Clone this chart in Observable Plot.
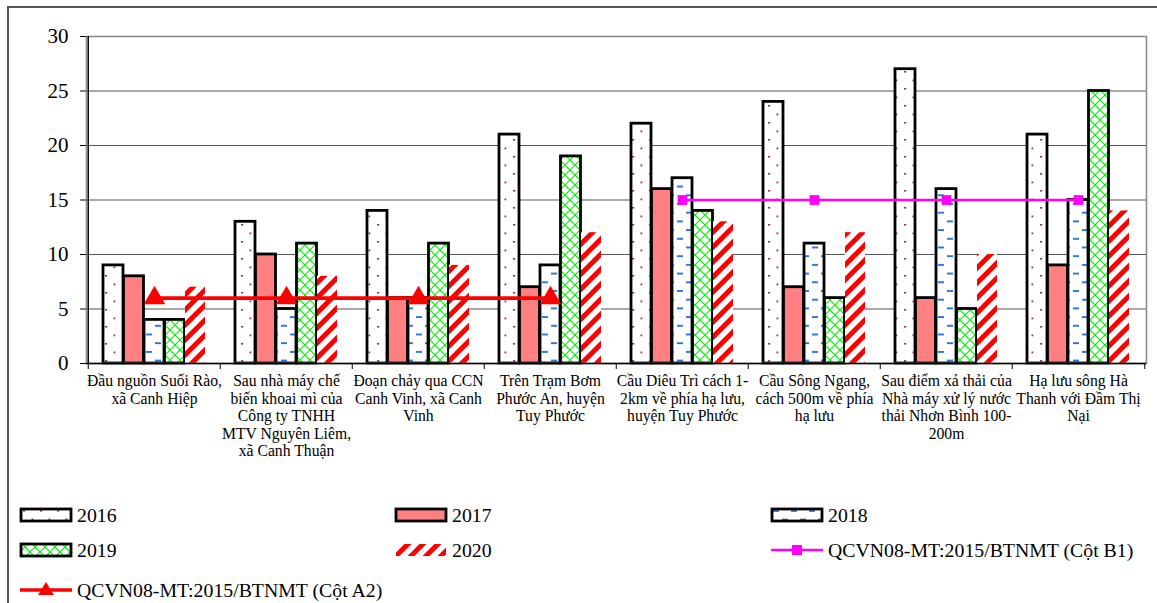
<!DOCTYPE html>
<html>
<head>
<meta charset="utf-8">
<script src="https://cdn.jsdelivr.net/npm/d3@7"></script>
<script src="https://cdn.jsdelivr.net/npm/@observablehq/plot@0.6"></script>
<style>
  html, body { margin: 0; padding: 0; background: #fff; overflow: hidden; }
  body { width: 1157px; height: 603px; position: relative; font-family: "Liberation Serif", "Times New Roman", serif; }
  #border { position: absolute; left: 7px; top: 6px; width: 1200px; height: 700px;
            border-top: 2px solid #555; border-left: 2px solid #555; box-sizing: border-box; }
  #chart { position: absolute; left: 0; top: 0; }
  #defs { position: absolute; width: 0; height: 0; }
  .item { position: absolute; display: flex; align-items: center; font-size: 19.8px; color: #000; white-space: nowrap; }
  .item svg { margin-right: 5px; overflow: visible; }
</style>
</head>
<body>
<div id="border"></div>
<svg id="defs" width="0" height="0"></svg>
<div id="chart"></div>
<div id="legend"></div>
<script>
// Monitoring locations along the river
const categories = [
  "Đầu nguồn Suối Rào, xã Canh Hiệp",
  "Sau nhà máy chế biến khoai mì của Công ty TNHH MTV Nguyên Liêm, xã Canh Thuận",
  "Đoạn chảy qua CCN Canh Vinh, xã Canh Vinh",
  "Trên Trạm Bơm Phước An, huyện Tuy Phước",
  "Cầu Diêu Trì cách 1-2km về phía hạ lưu, huyện Tuy Phước",
  "Cầu Sông Ngang, cách 500m về phía hạ lưu",
  "Sau điểm xả thải của Nhà máy xử lý nước thải Nhơn Bình 100-200m",
  "Hạ lưu sông Hà Thanh với Đầm Thị Nại"
];
// Axis labels, wrapped onto lines
const tickLabels = [
  "Đầu nguồn Suối Rào,\nxã Canh Hiệp",
  "Sau nhà máy chế\nbiến khoai mì của\nCông ty TNHH\nMTV Nguyên Liêm,\nxã Canh Thuận",
  "Đoạn chảy qua CCN\nCanh Vinh, xã Canh\nVinh",
  "Trên Trạm Bơm\nPhước An, huyện\nTuy Phước",
  "Cầu Diêu Trì cách 1-\n2km về phía hạ lưu,\nhuyện Tuy Phước",
  "Cầu Sông Ngang,\ncách 500m về phía\nhạ lưu",
  "Sau điểm xả thải của\nNhà máy xử lý nước\nthải Nhơn Bình 100-\n200m",
  "Hạ lưu sông Hà\nThanh với Đầm Thị\nNại"
];
const years = ["2016", "2017", "2018", "2019", "2020"];
const s2016 = [9, 13, 14, 21, 22, 24, 27, 21];
const s2017 = [8, 10, 6, 7, 16, 7, 6, 9];
const s2018 = [4, 5, 6, 9, 17, 11, 16, 15];
const s2019 = [4, 11, 11, 19, 14, 6, 5, 25];
const s2020 = [7, 8, 9, 12, 13, 12, 10, 14];
const seriesValues = [s2016, s2017, s2018, s2019, s2020];

// Standard limits QCVN08-MT:2015/BTNMT
const labelA2 = "QCVN08-MT:2015/BTNMT (Cột A2)";
const labelB1 = "QCVN08-MT:2015/BTNMT (Cột B1)";
const limitA2 = 6;
const limitB1 = 15;
const sitesA2 = categories.slice(0, 4);
const sitesB1 = categories.slice(4);
const yTicks = [0, 5, 10, 15, 20, 25, 30];

const rows = years.flatMap((year, j) =>
  categories.map((category, i) => ({category, year, value: seriesValues[j][i]})));
const rowsA2 = sitesA2.map(category => ({category, value: limitA2}));
const rowsB1 = sitesB1.map(category => ({category, value: limitB1}));

// Fill patterns per year
const defs = d3.select("#defs").append("defs");
function pattern(id, w, h) {
  const p = defs.append("pattern").attr("id", id).attr("patternUnits", "userSpaceOnUse")
    .attr("width", w).attr("height", h);
  p.append("rect").attr("width", w).attr("height", h).attr("fill", "#fff");
  return p;
}
{
  const p = pattern("pat2016", 17, 17);
  p.append("rect").attr("x", 3).attr("y", 3).attr("width", 2.2).attr("height", 1.6).attr("fill", "#993366");
  p.append("rect").attr("x", 11.5).attr("y", 11.5).attr("width", 1.8).attr("height", 1.8).attr("fill", "#993366");
}
{
  const p = pattern("pat2018", 18, 17.4);
  p.append("rect").attr("x", 2).attr("y", 3).attr("width", 6).attr("height", 1.8).attr("fill", "#1f6fd6");
  p.append("rect").attr("x", 11).attr("y", 11.7).attr("width", 6).attr("height", 1.8).attr("fill", "#1f6fd6");
}
{
  const p = pattern("pat2019", 10, 10);
  p.append("path").attr("d", "M0,0L10,10M10,0L0,10").attr("stroke", "#00f000").attr("stroke-width", 1.1).attr("fill", "none");
}
{
  const p = pattern("pat2020", 15, 15);
  p.append("path").attr("d", "M-5,5L5,-5M0,15L15,0M10,20L20,10").attr("stroke", "#ff0000").attr("stroke-width", 5).attr("fill", "none");
}
const fills = {"2016": "url(#pat2016)", "2017": "#ff8080", "2018": "url(#pat2018)", "2019": "url(#pat2019)", "2020": "url(#pat2020)"};
const strokes = {"2016": "#000", "2017": "#000", "2018": "#000", "2019": "#000", "2020": "none"};

const W = 1157, ML = 86, MR = 11;
const band = (W - ML - MR) / categories.length;
const groupPad = 15;
const barW = (band - 2 * groupPad) / years.length;

const bars = years.map((year, j) => Plot.barY(rows.filter(d => d.year === year), {
  x: "category", y: "value",
  fill: fills[year], stroke: strokes[year], strokeWidth: 2.8,
  insetLeft: groupPad + j * barW,
  insetRight: band - groupPad - (j + 1) * barW
}));

const chart = Plot.plot({
  width: W, height: 470,
  marginLeft: ML, marginRight: MR, marginTop: 36, marginBottom: 107,
  x: {domain: categories, padding: 0, axis: null, label: null},
  y: {domain: [0, 30], axis: null, label: null},
  style: {fontFamily: '"Liberation Serif", "Times New Roman", serif', background: "transparent", color: "#000", overflow: "visible"},
  marks: [
    Plot.ruleY([5, 10, 15, 20, 25], {stroke: "#555", strokeWidth: 1.2}),
    ...bars,
    Plot.frame({stroke: "#8c8c8c", strokeWidth: 1.6}),
    Plot.ruleY([0], {stroke: "#000", strokeWidth: 1.4}),
    Plot.ruleX([categories[0]], {dx: -band / 2, y1: 0, y2: 30, stroke: "#000", strokeWidth: 1.4}),
    Plot.axisY(yTicks, {tickSize: 6, tickPadding: 12, fontSize: 21, label: null, anchor: "left"}),
    Plot.axisX({tickSize: 0, tickPadding: 10, fontSize: 15.7, lineHeight: 1.12, label: null,
      tickFormat: d => tickLabels[categories.indexOf(d)]}),
    Plot.axisX({tickSize: 6, tickFormat: () => "", dx: -band / 2, label: null}),
    Plot.axisX([categories[categories.length - 1]], {tickSize: 6, tickFormat: () => "", dx: band / 2, label: null}),
    Plot.lineY(rowsA2, {x: "category", y: "value", stroke: "#ff0000", strokeWidth: 3.6}),
    Plot.dot(rowsA2, {x: "category", y: "value", symbol: "triangle", r: 8, fill: "#ff0000"}),
    Plot.lineY(rowsB1, {x: "category", y: "value", stroke: "#ff00ff", strokeWidth: 2.6}),
    Plot.dot(rowsB1, {x: "category", y: "value", symbol: "square", r: 5.5, fill: "#ff00ff"})
  ]
});
document.getElementById("chart").appendChild(chart);

// Legend
const legendItems = [
  {label: "2016", kind: "bar", key: "2016", left: 20, top: 515},
  {label: "2017", kind: "bar", key: "2017", left: 395, top: 515},
  {label: "2018", kind: "bar", key: "2018", left: 771, top: 515},
  {label: "2019", kind: "bar", key: "2019", left: 20, top: 550},
  {label: "2020", kind: "bar", key: "2020", left: 395, top: 550},
  {label: labelB1, kind: "line", color: "#ff00ff", symbol: "square", left: 771, top: 550},
  {label: labelA2, kind: "line", color: "#ff0000", symbol: "triangle", left: 20, top: 590}
];
const legend = d3.select("#legend");
for (const it of legendItems) {
  const div = legend.append("div").attr("class", "item")
    .style("left", it.left + "px").style("top", (it.top - 12) + "px").style("height", "24px");
  const s = div.append("svg").attr("width", 52).attr("height", 16);
  if (it.kind === "bar") {
    s.append("rect").attr("x", 1).attr("y", 2).attr("width", 50).attr("height", 12)
      .attr("fill", fills[it.key]).attr("stroke", strokes[it.key]).attr("stroke-width", 2.8);
  } else {
    s.append("line").attr("x1", 0).attr("x2", 52).attr("y1", 8).attr("y2", 8)
      .attr("stroke", it.color).attr("stroke-width", it.symbol === "triangle" ? 3.6 : 2.6);
    if (it.symbol === "square") {
      s.append("rect").attr("x", 21).attr("y", 3).attr("width", 10).attr("height", 10).attr("fill", it.color);
    } else {
      s.append("path").attr("d", "M26,0L34,13L18,13Z").attr("fill", it.color);
    }
  }
  div.append("span").text(it.label);
}
</script>
</body>
</html>
